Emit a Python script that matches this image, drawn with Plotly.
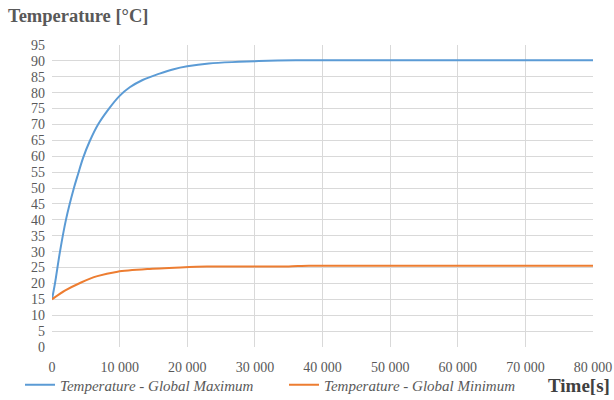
import plotly.graph_objects as go

# Data
time_max = [0, 440, 1180, 2060, 3240, 3870, 4600, 5590, 6810, 8430, 10000,
            11500, 13400, 15900, 18000, 20000, 23200, 27600, 30000, 36000, 80000]
temp_max = [15, 20, 30, 40, 50, 54.5, 59.5, 64.8, 70, 75, 79.0,
            81.7, 84.0, 86.0, 87.4, 88.3, 89.2, 89.7, 89.9, 90.2, 90.2]

time_min = [0, 1900, 4300, 6700, 9700, 14100, 19000, 22900, 35000, 38000, 80000]
temp_min = [15, 17.7, 20.3, 22.3, 23.7, 24.5, 25.0, 25.3, 25.35, 25.55, 25.55]

series_names = ["Temperature - Global Maximum", "Temperature - Global Minimum"]
y_label = "Temperature [°C]"
x_label = "Time[s]"

fig = go.Figure()
fig.add_trace(go.Scatter(x=time_max, y=temp_max, mode="lines", name=series_names[0],
                         legend="legend",
                         line=dict(color="#5b9bd5", width=2, shape="spline", smoothing=1)))
fig.add_trace(go.Scatter(x=time_min, y=temp_min, mode="lines", name=series_names[1],
                         legend="legend2",
                         line=dict(color="#ed7d31", width=2, shape="spline", smoothing=0.6)))

tick_font = dict(family="Liberation Serif", size=14, color="#595959")
legend_font = dict(family="Liberation Serif", size=15, color="#595959", style="italic")

fig.update_layout(
    width=614, height=400,
    margin=dict(l=52, r=21, t=45, b=53, autoexpand=False),
    paper_bgcolor="white", plot_bgcolor="white",
    separators=". ",
    showlegend=True,
    legend=dict(orientation="h", x=(20 - 52) / 541, xanchor="left", y=-0.126, yanchor="middle",
                font=legend_font, itemwidth=30, bgcolor="rgba(0,0,0,0)"),
    legend2=dict(orientation="h", x=(284 - 52) / 541, xanchor="left", y=-0.126, yanchor="middle",
                 font=legend_font, itemwidth=30, bgcolor="rgba(0,0,0,0)"),
    title=dict(text="<b>" + y_label + "</b>", x=8 / 614, xanchor="left", xref="container",
               y=1 - 16 / 400, yanchor="middle", yref="container",
               font=dict(family="Liberation Serif", size=18.5, color="#595959")),
    annotations=[dict(text="<b>" + x_label + "</b>", xref="paper", yref="paper",
                      x=(612 - 52) / 541, y=-0.126, xanchor="right", yanchor="middle",
                      showarrow=False,
                      font=dict(family="Liberation Serif", size=19, color="#404040"))],
)

fig.update_xaxes(range=[0, 80000], dtick=10000, tickformat=",d",
                 showgrid=True, gridcolor="#d9d9d9", gridwidth=1,
                 zeroline=False, showline=False, ticks="", ticklabelstandoff=10,
                 tickfont=tick_font)
fig.update_yaxes(range=[0, 95], dtick=5, showgrid=True, gridcolor="#d9d9d9", gridwidth=1,
                 zeroline=False, showline=False, ticks="", ticklabelstandoff=6,
                 tickfont=tick_font)

fig.write_html("out.html", config={"displayModeBar": False})

# remove the default page margin so the figure sits at the window's top-left corner
with open("out.html", "r", encoding="utf-8") as f:
    html = f.read()
html = html.replace("<body>", '<body style="margin:0;padding:0;overflow:hidden">', 1)
with open("out.html", "w", encoding="utf-8") as f:
    f.write(html)
